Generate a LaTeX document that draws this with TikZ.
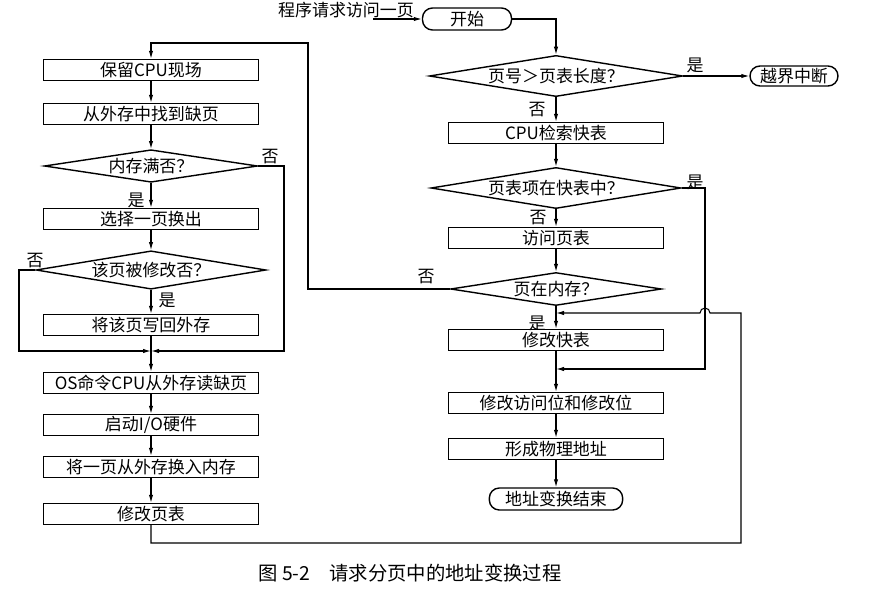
\documentclass[tikz,border=0pt]{standalone}
\usepackage{fontspec}
\setmainfont{Noto Sans CJK SC}
\usepackage{tikz}
\usetikzlibrary{shapes.geometric, arrows.meta}

\begin{document}
\begin{tikzpicture}[x=0.3mm, y=-0.3mm, font=\fontsize{14.5}{16}\selectfont]
        \tikzstyle{block} = [rectangle, draw, line width=1.2pt, minimum width=64.5mm, minimum height=6.3mm, inner sep=0pt]
        \tikzstyle{decision} = [diamond, draw, line width=1.2pt, aspect=6, inner sep=1pt, minimum width=64mm, minimum height=9.6mm]
        \tikzstyle{terminal} = [rectangle, draw, line width=1.2pt, rounded corners=3mm, minimum height=6.6mm, inner sep=0pt]
        \tikzstyle{line} = [draw, line width=0.9pt, -{Latex[length=2.4mm, width=1.3mm]}]
        \tikzstyle{answer} = [inner sep=0pt]

        \useasboundingbox (0,0) rectangle (870,597);

        % left column: page fault handling
        \node [block] (save) at (151,70) {保留CPU现场};
        \node [block] (find) at (151,114) {从外存中找到缺页};
        \node [decision] (full) at (151,166) {内存满否？};
        \node [block] (select) at (151,219) {选择一页换出};
        \node [decision] (dirty) at (151,270) {该页被修改否？};
        \node [block] (writeback) at (151,325) {将该页写回外存};
        \node [block] (osread) at (151,383) {OS命令CPU从外存读缺页};
        \node [block] (startio) at (151,425) {启动I/O硬件};
        \node [block] (swapin) at (151,467) {将一页从外存换入内存};
        \node [block] (updpt) at (151,514) {修改页表};

        % right column: address translation
        \node [terminal, minimum width=26.7mm] (start) at (467,19) {开始};
        \node [decision, minimum width=76mm] (bound) at (556,76) {页号＞页表长度？};
        \node [terminal, minimum width=26.4mm, minimum height=6mm] (overflow) at (794,76) {越界中断};
        \node [block] (search) at (556,133) {CPU检索快表};
        \node [decision, minimum width=75mm] (intlb) at (556,188) {页表项在快表中？};
        \node [block] (visit) at (556,238) {访问页表};
        \node [decision, minimum width=63.3mm, minimum height=9.9mm] (inmem) at (556,289) {页在内存？};
        \node [block] (updtlb) at (556,340) {修改快表};
        \node [block] (updbits) at (556,403) {修改访问位和修改位};
        \node [block] (phys) at (556,449) {形成物理地址};
        \node [terminal, minimum width=40mm] (finish) at (556,499) {地址变换结束};

        \node [answer] (req) at (346,10) {程序请求访问一页};
        \node [font=\fontsize{16.5}{18}\selectfont] (caption) at (410,573) {图 5-2\quad 请求分页中的地址变换过程};

        \coordinate (entry) at (373,19);
        \coordinate (loop) at (308,43);
        \coordinate (join) at (151,351);
        \coordinate (ljoin) at (19,351);
        \coordinate (rjoin) at (284,351);
        \coordinate (yescorner) at (705,188);
        \coordinate (m2) at (556,313);
        \coordinate (m3) at (556,369);
        \coordinate (corner) at (741,313);
        \coordinate (back) at (741,543);
        \coordinate (hop) at (yescorner |- m2);

        \path [line] (entry) -- (start);
        \path [line] (start.east) -| (bound.north);
        \path [line] (bound.east) -- (overflow.west);
        \path [line] (bound) -- (search);
        \path [line] (search) -- (intlb);
        \path [line] (intlb) -- (visit);
        \path [line] (visit) -- (inmem);
        \path [line] (inmem) -- (updtlb);
        \path [line] (intlb.east) -- (yescorner) |- (m3);
        \path [line] (updtlb) -- (updbits);
        \path [line] (updbits) -- (phys);
        \path [line] (phys) -- (finish);
        \path [line] (inmem.west) -| (loop) -| (save.north);

        \path [line] (save) -- (find);
        \path [line] (find) -- (full);
        \path [line] (full) -- (select);
        \path [line] (select) -- (dirty);
        \path [line] (dirty) -- (writeback);
        \path [line] (writeback) -- (osread);
        \path [line] (full.east) -| (rjoin) -- (join);
        \path [line] (dirty.west) -| (ljoin) -- (join);
        \path [line] (osread) -- (startio);
        \path [line] (startio) -- (swapin);
        \path [line] (swapin) -- (updpt);
        \path [line] (updpt.south) |- (back) -- (corner) -- ([xshift=1.5mm]hop) arc[start angle=0, end angle=180, radius=1.5mm] -- (m2);

        % yes / no labels
        \node [answer] at (695,65) {是};
        \node [answer] at (537,110) {否};
        \node [answer] at (695,182) {是};
        \node [answer] at (538,218) {否};
        \node [answer] at (426,277) {否};
        \node [answer] at (537,323) {是};
        \node [answer] at (270,157) {否};
        \node [answer] at (136,200) {是};
        \node [answer] at (35,261) {否};
        \node [answer] at (167,300) {是};
    \end{tikzpicture}
\end{document}
